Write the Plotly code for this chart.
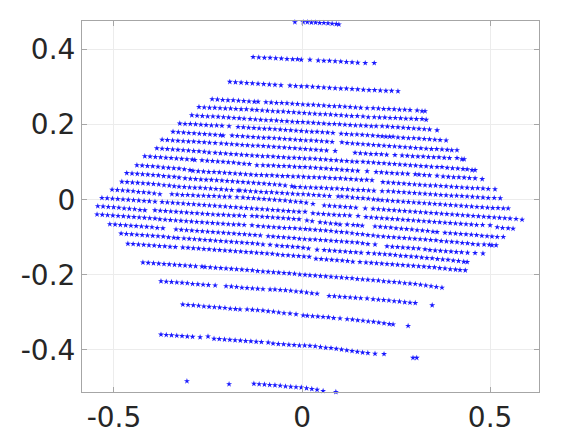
import plotly.graph_objects as go

# Values are thousandths of the axis unit, flat x,y,x,y,...
row_a = [-19,473, 3,473, 14,473, 25,472, 36,472, 47,471, 58,471, 69,470, 80,469, 91,468, 98,467]
row_b = [-130,380, -115,379, -100,378, -85,378, -70,377, -55,376, -40,375, -25,374, -12,374, -2,373, 21,373, 43,371, 58,370, 73,370, 88,369, 103,368, 118,367, 133,366, 148,365, 168,364, 192,364]
row_c = [-192,314, -177,313, -162,312, -147,311, -132,310, -117,309, -102,308, -87,307, -72,306, -56,305, -32,304, -17,303, -2,302, 13,302, 28,301, 43,300, 58,299, 73,298, 88,297, 103,296, 118,296, 133,295, 148,294, 163,293, 178,292, 193,292, 208,291, 223,290, 238,290, 255,289]
row_d = [-239,268, -225,267, -211,266, -197,265, -183,265, -169,264, -155,263, -141,262, -127,261, -117,261, -96,260, -82,259, -68,258, -54,258, -40,257, -26,256, -12,255, 2,254, 16,253, 30,253, 44,252, 58,251, 72,250, 86,249, 100,249, 114,248, 128,247, 142,246, 156,245, 173,244, 189,244, 203,243, 217,242, 231,242, 245,241, 259,240, 273,240, 287,239, 306,238, 319,236, 327,236]
row_e = [-274,247, -260,246, -246,245, -232,245, -218,244, -204,243, -190,243, -176,242, -162,241, -148,241, -133,240, -120,239, -106,238, -92,237, -78,236, -64,235, -50,235, -36,234, -22,233, -8,232, 6,231, 20,230, 34,229, 48,228, 62,228, 76,227, 90,226, 104,225, 118,224, 132,223, 147,223, 162,222, 176,220, 192,220, 206,219, 220,219, 234,218, 248,218, 262,217, 276,216, 290,216, 304,215, 319,215, 330,213]
row_f = [-293,225, -279,224, -265,223, -251,222, -237,222, -223,221, -209,220, -195,219, -181,218, -167,217, -154,216, -138,215, -124,214, -110,213, -96,212, -82,212, -68,211, -54,210, -40,209, -26,208, -12,207, 2,207, 16,206, 30,205, 44,204, 58,203, 72,202, 86,202, 100,201, 114,200, 128,199, 142,198, 156,198, 170,197, 184,196, 197,196, 213,196, 227,195, 241,194, 255,193, 269,192, 283,191, 297,190, 311,189, 325,188, 339,187, 359,185]
row_g = [-325,203, -311,202, -297,202, -283,201, -269,200, -255,199, -241,198, -227,198, -213,197, -194,196, -170,194, -156,193, -142,192, -128,191, -114,190, -100,189, -86,189, -72,188, -58,187, -44,186, -30,185, -16,184, -2,183, 12,182, 26,181, 40,181, 54,180, 68,179, 82,178, 104,176, 118,175, 132,174, 146,174, 160,173, 174,172, 188,171, 202,170, 213,169, 223,168, 233,168, 242,168, 255,166, 269,165, 283,164, 297,164, 311,163, 325,162, 339,161, 353,160, 367,159, 383,158]
row_h = [-343,181, -329,180, -315,179, -301,178, -287,177, -273,176, -259,175, -245,174, -231,173, -217,172, -210,171, -186,171, -172,170, -158,169, -144,168, -130,167, -116,166, -102,165, -88,165, -74,164, -60,163, -46,162, -32,161, -18,160, -4,159, 10,158, 24,158, 38,157, 52,156, 66,155, 80,154, 106,153, 120,151, 134,150, 148,149, 162,148, 176,147, 190,146, 204,145, 218,144, 232,143, 246,142, 260,141, 274,140, 288,139, 302,138, 316,137, 330,136, 344,135, 358,135, 372,134, 386,133, 398,132, 412,132]
row_i = [-372,160, -358,159, -344,158, -330,157, -316,156, -302,155, -288,155, -274,154, -260,153, -246,152, -231,151, -215,150, -201,149, -187,148, -173,147, -159,146, -145,145, -131,144, -117,144, -103,143, -89,142, -75,141, -61,140, -47,139, -33,138, -19,137, -5,136, 9,135, 23,134, 37,133, 51,132, 65,131, 88,130, 141,125, 155,124, 169,123, 183,122, 197,122, 211,121, 225,120, 247,119, 266,118, 280,117, 294,116, 308,115, 322,115, 336,114, 350,113, 364,113, 378,112, 392,111, 412,111, 425,108, 431,108]
row_j = [-386,137, -372,136, -358,135, -344,134, -330,133, -316,132, -302,131, -288,130, -274,129, -260,128, -247,126, -231,125, -217,124, -203,123, -189,122, -175,121, -161,120, -147,119, -133,118, -119,117, -105,116, -91,116, -77,115, -63,114, -49,113, -35,112, -21,112, -7,111, 7,110, 21,110, 35,109, 49,108, 63,107, 77,106, 91,105, 105,104, 119,103, 133,102, 146,101, 162,101, 176,100, 190,99, 204,98, 218,97, 232,96, 246,95, 260,94, 274,93, 288,92, 302,91, 316,90, 330,89, 344,88, 359,87, 372,87, 386,85, 400,84, 414,83, 428,82, 439,81, 452,79, 460,79]
row_k = [-418,116, -404,115, -390,114, -376,113, -362,112, -348,111, -334,110, -320,109, -306,108, -292,107, -285,106, -266,105, -252,104, -238,103, -224,102, -210,101, -196,100, -182,99, -168,97, -154,96, -140,95, -120,92, -104,92, -90,91, -76,91, -62,90, -48,90, -34,89, -20,88, -6,87, 8,87, 22,86, 36,85, 50,84, 64,83, 78,82, 92,81, 106,80, 120,79, 134,78, 148,77, 173,76, 197,74, 211,73, 225,72, 239,71, 253,70, 267,70, 281,69, 301,68, 311,67, 325,66, 339,65, 359,64, 375,62, 389,61, 403,60, 417,60, 431,59, 445,58, 460,57, 479,55]
row_l = [-439,92, -425,91, -411,90, -397,89, -383,88, -369,86, -355,85, -341,84, -327,83, -313,81, -298,79, -290,77, -276,76, -262,75, -248,74, -234,74, -220,73, -206,72, -192,71, -178,70, -164,69, -150,68, -136,67, -122,66, -108,66, -94,65, -80,65, -66,64, -52,63, -38,63, -24,62, -10,62, 4,61, 18,60, 32,60, 46,59, 60,59, 74,58, 88,57, 102,57, 116,56, 130,55, 144,54, 158,53, 172,53, 186,52, 215,47, 229,46, 243,45, 257,44, 271,43, 285,42, 299,41, 313,40, 327,39, 341,38, 355,38, 369,37, 383,36, 397,35, 411,34, 425,33, 439,32, 453,31, 467,31, 481,30, 495,29, 513,28]
row_m = [-466,71, -452,70, -438,69, -424,68, -410,67, -396,66, -382,65, -368,63, -354,62, -340,61, -327,59, -311,57, -297,56, -283,55, -269,54, -255,53, -241,53, -227,52, -213,51, -199,50, -185,49, -171,48, -157,47, -143,46, -129,45, -115,44, -101,43, -87,42, -73,41, -59,40, -45,38, -27,36, -19,34, -5,34, 9,33, 23,33, 37,32, 51,32, 65,31, 79,30, 93,30, 107,29, 121,28, 135,27, 149,26, 163,26, 177,25, 191,24, 213,23, 229,23, 243,22, 257,21, 271,20, 285,19, 299,18, 313,17, 327,16, 341,15, 355,14, 369,13, 383,12, 397,11, 411,11, 425,10, 439,9, 453,8, 467,7, 481,6, 495,5, 511,5, 527,4]
row_n = [-479,48, -465,47, -451,46, -437,45, -423,44, -409,43, -395,42, -381,41, -367,39, -353,38, -340,36, -327,35, -313,34, -299,33, -285,32, -271,32, -257,31, -243,30, -229,29, -215,28, -201,27, -187,26, -170,25, -165,25, -151,24, -137,23, -123,22, -109,21, -95,20, -81,20, -67,19, -53,18, -39,17, -25,16, -11,15, 3,15, 17,14, 31,13, 45,12, 59,11, 73,10, 96,9, 106,9, 120,8, 134,6, 148,5, 162,4, 176,3, 190,1, 202,0, 213,-1, 227,-2, 241,-3, 255,-4, 269,-5, 283,-6, 297,-7, 311,-8, 325,-9, 339,-10, 353,-11, 367,-12, 381,-13, 395,-14, 409,-15, 423,-16, 437,-17, 451,-18, 465,-19, 479,-20, 493,-21, 507,-22, 521,-22, 535,-23, 548,-23]
row_o = [-505,27, -491,26, -477,25, -463,24, -449,23, -435,21, -421,20, -407,19, -393,17, -378,15, -346,15, -332,14, -318,13, -304,13, -290,12, -276,11, -262,11, -248,10, -234,10, -220,9, -206,8, -192,8, -173,7, -157,6, -143,5, -129,4, -115,3, -101,2, -87,1, -73,0, -59,-1, -45,-2, -31,-4, -17,-5, -3,-6, 11,-8, 29,-11, 59,-15, 73,-16, 87,-17, 101,-18, 115,-19, 129,-20, 143,-21, 168,-23, 189,-24, 203,-25, 217,-26, 231,-27, 245,-28, 259,-29, 273,-30, 287,-31, 301,-32, 315,-33, 329,-34, 343,-35, 357,-36, 371,-37, 385,-38, 399,-39, 413,-40, 427,-41, 441,-42, 455,-43, 469,-44, 483,-45, 497,-46, 511,-47, 525,-48, 539,-49, 553,-50, 569,-51, 585,-53]
row_p = [-532,5, -518,4, -504,3, -490,2, -476,1, -462,0, -448,-1, -434,-2, -420,-3, -406,-4, -391,-5, -372,-6, -358,-7, -344,-8, -330,-9, -316,-10, -302,-11, -288,-12, -274,-13, -260,-14, -246,-15, -232,-16, -218,-17, -204,-18, -190,-19, -176,-20, -162,-21, -148,-22, -134,-23, -120,-24, -106,-25, -92,-26, -78,-27, -64,-28, -50,-29, -36,-30, -22,-31, -8,-32, 8,-32, 29,-36, 43,-37, 57,-38, 71,-39, 85,-40, 99,-41, 113,-41, 127,-42, 149,-43, 170,-46, 184,-47, 198,-48, 212,-49, 226,-50, 240,-51, 254,-52, 268,-53, 282,-54, 296,-55, 310,-56, 324,-57, 338,-58, 352,-59, 366,-60, 380,-61, 394,-62, 408,-63, 422,-64, 436,-65, 450,-66, 464,-67, 480,-67, 500,-68, 519,-73, 533,-75, 548,-76, 561,-77]
row_q = [-543,-17, -529,-18, -515,-19, -501,-20, -487,-21, -473,-23, -459,-24, -445,-25, -431,-27, -418,-28, -391,-28, -377,-29, -363,-30, -349,-31, -335,-32, -321,-33, -307,-34, -293,-35, -279,-36, -265,-37, -251,-38, -237,-39, -223,-40, -209,-40, -195,-41, -181,-42, -167,-42, -153,-43, -133,-43, -120,-44, -106,-45, -92,-46, -78,-47, -64,-48, -50,-49, -36,-50, -22,-51, -8,-52, 13,-55, 27,-57, 48,-60, 62,-61, 76,-63, 90,-64, 101,-66, 120,-66, 136,-67, 148,-68, 160,-69, 194,-71, 208,-72, 222,-73, 236,-74, 250,-76, 264,-77, 278,-78, 292,-79, 306,-81, 320,-82, 334,-83, 348,-85, 359,-86, 380,-88, 394,-89, 408,-90, 422,-91, 436,-92, 450,-93, 464,-94, 478,-96, 492,-97, 505,-98, 519,-99, 535,-99]
row_r = [-545,-39, -531,-40, -517,-41, -503,-42, -489,-43, -475,-44, -461,-45, -447,-46, -433,-47, -419,-48, -405,-49, -391,-50, -378,-52, -364,-53, -350,-54, -336,-55, -322,-56, -308,-57, -294,-58, -280,-59, -266,-60, -252,-61, -238,-62, -224,-63, -210,-64, -196,-65, -182,-66, -168,-66, -154,-67, -133,-68, -117,-70, -103,-71, -89,-72, -75,-73, -61,-74, -47,-75, -33,-75, -19,-76, -5,-77, 9,-78, 21,-79, 35,-80, 49,-81, 63,-82, 77,-83, 91,-85, 105,-86, 119,-87, 133,-89, 147,-91, 161,-92, 175,-94, 189,-95, 202,-97, 216,-98, 230,-99, 244,-100, 258,-101, 272,-102, 286,-103, 300,-104, 314,-105, 328,-106, 342,-107, 356,-108, 370,-110, 384,-111, 398,-112, 412,-113, 426,-115, 440,-116, 454,-118, 468,-119, 484,-119, 498,-120, 505,-121, 516,-121]
row_s = [-511,-65, -497,-66, -483,-67, -469,-68, -455,-69, -441,-70, -427,-71, -413,-72, -399,-73, -385,-75, -370,-76, -335,-79, -321,-80, -307,-81, -293,-82, -279,-83, -265,-84, -251,-85, -237,-86, -223,-87, -209,-88, -195,-89, -181,-90, -167,-91, -153,-92, -139,-93, -125,-94, -111,-95, -90,-97, -77,-98, -63,-99, -49,-100, -35,-101, -21,-102, -7,-104, 7,-105, 21,-106, 35,-106, 49,-107, 63,-108, 77,-109, 91,-110, 105,-111, 119,-112, 133,-113, 147,-114, 161,-116, 175,-118, 194,-119, 226,-124, 240,-125, 254,-126, 268,-127, 282,-128, 296,-129, 310,-130, 327,-132, 340,-134, 354,-135, 368,-136, 382,-137, 396,-138, 410,-139, 424,-140, 440,-141, 460,-142, 481,-143]
row_t = [-481,-90, -467,-91, -453,-92, -439,-93, -425,-94, -411,-95, -397,-96, -383,-97, -369,-98, -355,-100, -341,-101, -330,-102, -314,-103, -300,-104, -286,-105, -272,-106, -258,-107, -244,-108, -230,-109, -216,-110, -202,-111, -188,-112, -174,-113, -160,-114, -146,-115, -132,-116, -118,-117, -104,-119, -85,-120, -67,-122, -53,-123, -39,-124, -25,-125, -11,-126, 3,-128, 17,-130, 40,-133, 59,-134, 73,-135, 87,-136, 101,-137, 115,-138, 129,-139, 143,-140, 157,-141, 176,-142, 192,-143, 206,-144, 220,-145, 234,-146, 248,-147, 262,-149, 276,-150, 290,-151, 304,-152, 318,-154, 332,-155, 346,-156, 360,-158, 374,-159, 388,-160, 402,-162, 416,-163, 430,-165, 439,-166]
row_u = [-463,-117, -449,-118, -435,-119, -421,-120, -407,-121, -393,-122, -379,-123, -365,-124, -351,-125, -337,-126, -317,-127, -303,-128, -289,-129, -275,-130, -261,-131, -247,-132, -233,-133, -219,-134, -205,-135, -191,-136, -177,-137, -163,-138, -149,-139, -135,-140, -121,-141, -107,-142, -93,-143, -79,-144, -65,-146, -51,-147, -37,-148, -23,-149, -9,-150, 5,-151, 19,-152, 37,-157, 51,-158, 65,-159, 79,-160, 93,-161, 107,-162, 121,-163, 135,-165, 154,-166, 170,-167, 184,-168, 198,-169, 212,-170, 226,-171, 240,-172, 254,-173, 268,-174, 282,-175, 296,-176, 310,-177, 324,-178, 338,-179, 352,-180, 366,-182, 380,-183, 394,-185, 408,-186, 420,-187, 434,-188]
row_v = [-423,-167, -409,-168, -395,-169, -381,-170, -367,-171, -353,-172, -339,-173, -325,-174, -311,-175, -297,-176, -283,-177, -266,-178, -258,-179, -244,-180, -230,-181, -216,-182, -202,-183, -188,-184, -174,-185, -160,-186, -146,-187, -132,-188, -118,-190, -104,-191, -90,-192, -76,-193, -62,-194, -48,-195, -34,-196, -20,-197, -6,-199, 8,-200, 21,-201, 35,-202, 49,-203, 63,-204, 77,-205, 91,-206, 105,-207, 119,-208, 133,-209, 147,-211, 161,-212, 175,-213, 189,-214, 203,-215, 217,-217, 231,-218, 245,-219, 259,-220, 273,-222, 287,-223, 301,-224, 315,-226, 329,-228, 343,-230, 357,-232, 372,-234]
row_w = [-375,-217, -361,-218, -347,-219, -333,-220, -319,-221, -305,-222, -291,-224, -277,-225, -263,-226, -249,-227, -231,-228, -202,-230, -188,-231, -174,-232, -160,-234, -146,-235, -132,-236, -118,-237, -104,-238, -85,-239, -72,-239, -58,-240, -44,-241, -30,-242, -16,-244, -2,-245, 12,-247, 26,-249, 40,-250, 72,-256, 86,-257, 100,-258, 114,-259, 128,-260, 142,-261, 156,-262, 173,-263, 189,-265, 203,-266, 217,-267, 231,-268, 245,-270, 259,-271, 273,-273, 287,-274, 301,-275, 346,-281]
row_x = [-317,-279, -303,-280, -289,-281, -275,-282, -261,-284, -247,-285, -233,-286, -219,-287, -205,-288, -191,-290, -177,-291, -165,-292, -146,-292, -132,-293, -118,-294, -104,-295, -90,-297, -76,-298, -62,-300, -48,-302, -32,-303, -16,-305, 3,-308, 14,-309, 28,-310, 42,-311, 56,-312, 70,-313, 84,-315, 101,-316, 120,-318, 134,-319, 148,-321, 162,-322, 176,-324, 190,-325, 204,-327, 218,-329, 232,-331, 242,-332, 282,-336]
row_y = [-375,-359, -361,-360, -347,-361, -333,-362, -319,-363, -305,-364, -291,-365, -271,-366, -250,-364, -234,-370, -220,-371, -206,-372, -192,-373, -178,-374, -164,-375, -150,-376, -136,-377, -122,-378, -108,-379, -90,-380, -77,-383, -63,-384, -49,-385, -35,-386, -21,-387, -7,-388, 7,-388, 21,-389, 35,-390, 49,-392, 63,-394, 77,-395, 91,-397, 105,-399, 119,-401, 133,-403, 147,-405, 161,-407, 175,-408, 194,-410, 218,-411, 295,-421, 305,-421]
row_z = [-306,-483, -194,-491, -128,-490, -114,-491, -100,-492, -86,-493, -72,-494, -58,-495, -44,-497, -30,-498, -16,-499, -2,-500, 12,-502, 26,-504, 40,-506, 56,-509, 90,-512]

rows = [row_a, row_b, row_c, row_d, row_e, row_f, row_g, row_h, row_i, row_j, row_k, row_l, row_m,
        row_n, row_o, row_p, row_q, row_r, row_s, row_t, row_u, row_v, row_w, row_x, row_y, row_z]

x_ticks = [-0.5, 0, 0.5]
x_labels = ["-0.5", "0", "0.5"]
y_ticks = [-0.4, -0.2, 0, 0.2, 0.4]
y_labels = ["-0.4", "-0.2", "0", "0.2", "0.4"]

xs, ys = [], []
for r in rows:
    xs += [v / 1000 for v in r[0::2]]
    ys += [v / 1000 for v in r[1::2]]

fig = go.Figure(go.Scatter(x=xs, y=ys, mode="markers", cliponaxis=False,
                           marker=dict(color="#1a1aff", size=4.5, symbol="star", line=dict(width=0))))

axis = dict(showline=True, linecolor="#a6a6a6", linewidth=1, mirror="ticks", ticks="inside", ticklen=5,
            tickcolor="#a6a6a6", showgrid=True, gridcolor="#ececec", gridwidth=1, zeroline=False, automargin=False,
            tickfont=dict(family="DejaVu Sans", size=28, color="#262626"))
fig.update_layout(width=578, height=432, margin=dict(l=74, r=47, t=13, b=48), autosize=False,
                  plot_bgcolor="white", paper_bgcolor="white", showlegend=False,
                  xaxis=dict(range=[-0.585, 0.63], tickvals=x_ticks, ticktext=x_labels, **axis),
                  yaxis=dict(range=[-0.512, 0.476], tickvals=y_ticks, ticktext=y_labels, **axis))
fig.write_html("out.html")
